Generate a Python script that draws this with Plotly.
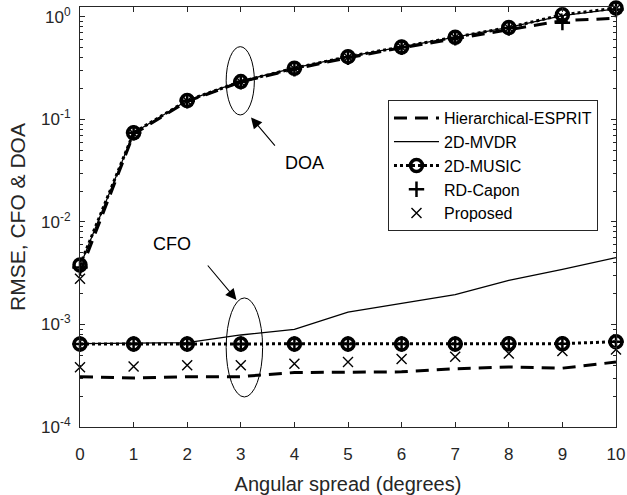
import plotly.graph_objects as go

angles = [0, 1, 2, 3, 4, 5, 6, 7, 8, 9, 10]

# DOA RMSE
doa_esprit = [0.0032, 0.072, 0.150, 0.232, 0.310, 0.400, 0.500, 0.615, 0.750, 0.920, 0.970]
doa_mvdr = [0.0037, 0.074, 0.153, 0.236, 0.318, 0.410, 0.510, 0.635, 0.790, 1.030, 1.200]
doa_music = [0.0038, 0.0743, 0.153, 0.234, 0.316, 0.410, 0.510, 0.634, 0.790, 1.050, 1.220]
doa_capon = [0.0036, 0.074, 0.152, 0.233, 0.312, 0.405, 0.505, 0.625, 0.780, 0.880, 1.180]
doa_proposed = [0.0028, 0.073, 0.151, 0.232, 0.313, 0.405, 0.505, 0.630, 0.780, 1.000, 1.200]

# CFO RMSE
cfo_esprit = [3.1e-4, 3.0e-4, 3.1e-4, 3.1e-4, 3.4e-4, 3.4e-4, 3.45e-4, 3.7e-4, 3.85e-4, 3.75e-4, 4.3e-4]
cfo_mvdr = [6.5e-4, 6.55e-4, 6.65e-4, 7.9e-4, 8.95e-4, 1.32e-3, 1.61e-3, 1.96e-3, 2.7e-3, 3.45e-3, 4.5e-3]
cfo_music = [6.45e-4, 6.45e-4, 6.45e-4, 6.45e-4, 6.45e-4, 6.45e-4, 6.45e-4, 6.45e-4, 6.5e-4, 6.5e-4, 6.8e-4]
cfo_capon = [6.45e-4, 6.45e-4, 6.45e-4, 6.45e-4, 6.45e-4, 6.45e-4, 6.45e-4, 6.45e-4, 6.5e-4, 6.5e-4, 6.8e-4]
cfo_proposed = [3.82e-4, 3.9e-4, 4.0e-4, 4.0e-4, 4.15e-4, 4.3e-4, 4.6e-4, 4.85e-4, 5.2e-4, 5.5e-4, 5.7e-4]

y_tick_vals = [1e-4, 1e-3, 1e-2, 1e-1, 1e0]
y_tick_text = ["10<sup>-4</sup>", "10<sup>-3</sup>", "10<sup>-2</sup>", "10<sup>-1</sup>", "10<sup>0</sup>"]
minor_vals = [m * d for d in [1e-4, 1e-3, 1e-2, 1e-1] for m in range(2, 10)]

FONT = "Liberation Sans, Arial, Helvetica, sans-serif"
AX = "#262626"


def both(a, b):
    return angles + [None] + angles, a + [None] + b


fig = go.Figure()

x, y = both(doa_esprit, cfo_esprit)
fig.add_trace(go.Scatter(x=x, y=y, mode="lines", name="Hierarchical-ESPRIT", cliponaxis=False,
                         line=dict(color="black", width=3, dash="13px,8px")))
x, y = both(doa_mvdr, cfo_mvdr)
fig.add_trace(go.Scatter(x=x, y=y, mode="lines", name="2D-MVDR", cliponaxis=False,
                         line=dict(color="black", width=1.3)))
x, y = both(doa_music, cfo_music)
fig.add_trace(go.Scatter(x=x, y=y, mode="lines+markers", name="2D-MUSIC", cliponaxis=False,
                         line=dict(color="black", width=3, dash="dot"),
                         marker=dict(symbol="circle-open", size=12, color="black",
                                     line=dict(width=3.5, color="black"))))
x, y = both(doa_capon, cfo_capon)
fig.add_trace(go.Scatter(x=x, y=y, mode="markers", name="RD-Capon", cliponaxis=False,
                         marker=dict(symbol="cross-thin", size=11,
                                     line=dict(width=2.5, color="black"))))
x, y = both(doa_proposed, cfo_proposed)
fig.add_trace(go.Scatter(x=x, y=y, mode="markers", name="Proposed", cliponaxis=False,
                         marker=dict(symbol="x-thin", size=10,
                                     line=dict(width=1.4, color="black"))))

# ellipses (shapes take data values on the log axis)
fig.add_shape(type="circle", xref="x", yref="y", x0=2.727, x1=3.253,
              y0=10 ** -0.956, y1=10 ** -0.29, line=dict(color="black", width=1))
fig.add_shape(type="circle", xref="x", yref="y", x0=2.727, x1=3.407,
              y0=10 ** -3.707, y1=10 ** -2.741, line=dict(color="black", width=1))

# arrows (annotation positions use log units on the log axis)
fig.add_annotation(x=3.19, y=-0.98, ax=3.66, ay=-1.27, xref="x", yref="y", axref="x", ayref="y",
                   text="", showarrow=True, arrowhead=2, arrowsize=2, arrowwidth=1.1,
                   arrowcolor="black")
fig.add_annotation(x=2.92, y=-2.76, ax=2.36, ay=-2.41, xref="x", yref="y", axref="x", ayref="y",
                   text="", showarrow=True, arrowhead=2, arrowsize=2, arrowwidth=1.1,
                   arrowcolor="black")
fig.add_annotation(x=4.18, y=-1.424, xref="x", yref="y", text="DOA", showarrow=False,
                   font=dict(family=FONT, size=18, color="black"))
fig.add_annotation(x=1.71, y=-2.215, xref="x", yref="y", text="CFO", showarrow=False,
                   font=dict(family=FONT, size=18, color="black"))

fig.update_layout(
    width=627, height=495,
    margin=dict(l=80, r=11, t=7, b=68),
    paper_bgcolor="white", plot_bgcolor="white",
    font=dict(family=FONT, size=17, color=AX),
    showlegend=True,
    legend=dict(x=0.5746, y=0.7786, xanchor="left", yanchor="top",
                bgcolor="white", bordercolor=AX, borderwidth=1, itemwidth=45,
                font=dict(family=FONT, size=16, color="black")),
    xaxis=dict(range=[0, 10], tickvals=angles, ticks="inside", ticklen=5, tickcolor=AX,
               showline=True, linecolor=AX, linewidth=1, mirror="ticks", showgrid=False,
               zeroline=False, ticklabelstandoff=12, automargin=False,
               ticklabeloverflow="allow",
               title=dict(text="Angular spread (degrees)", standoff=13,
                          font=dict(family=FONT, size=20, color=AX))),
    yaxis=dict(type="log", range=[-4, 0.097], tickvals=y_tick_vals, ticktext=y_tick_text,
               ticks="inside", ticklen=5, tickcolor=AX, showline=True, linecolor=AX,
               linewidth=1, mirror="ticks", showgrid=False, zeroline=False,
               ticklabelstandoff=5, automargin=False, ticklabeloverflow="allow",
               minor=dict(tickvals=minor_vals, ticks="inside", ticklen=3, tickcolor=AX,
                          showgrid=False),
               title=dict(text="RMSE, CFO & DOA", standoff=9,
                          font=dict(family=FONT, size=21, color=AX))),
)

fig.write_html("out.html", config={"displayModeBar": False},
               post_script="document.body.style.margin='0px';")
